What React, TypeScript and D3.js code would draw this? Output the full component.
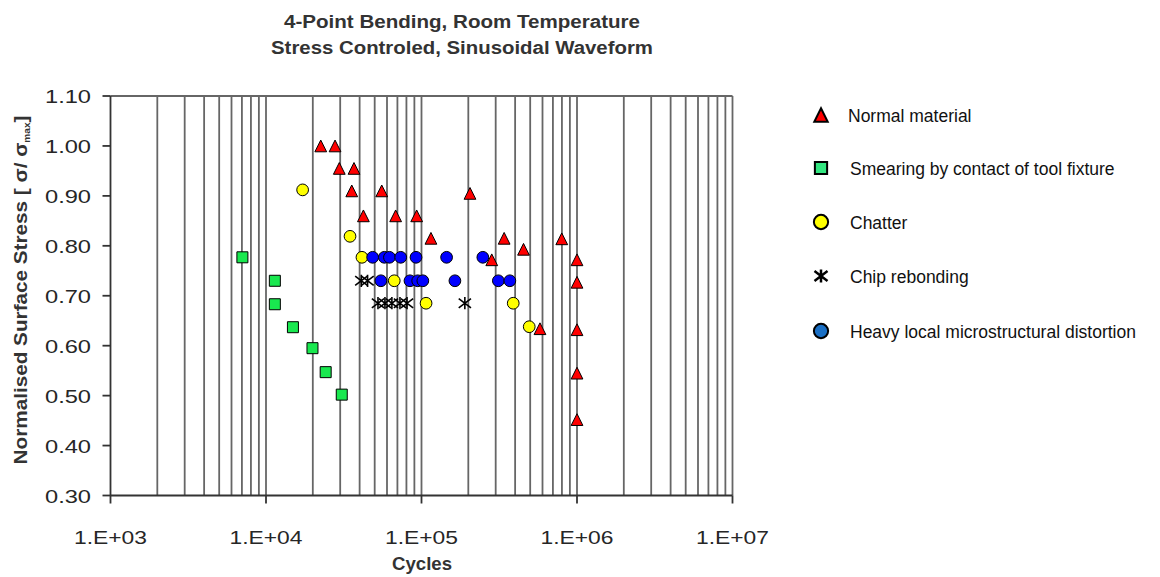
import React, { useEffect, useRef } from "react";
import * as d3 from "d3";

// Series: [cycles, normalised stress]
const normalMaterial: [number, number][] = [
  [22500, 1.0], [27800, 1.0], [29600, 0.955], [36800, 0.955],
  [35600, 0.91], [55500, 0.91], [42300, 0.86], [68200, 0.86],
  [93100, 0.86], [115000, 0.815], [205000, 0.905], [283000, 0.772],
  [340000, 0.815], [453000, 0.793], [578000, 0.634], [798000, 0.814],
  [1000000, 0.772], [1000000, 0.727], [1000000, 0.632], [1000000, 0.545],
  [1000000, 0.452],
];

const smearing: [number, number][] = [
  [7050, 0.777], [11400, 0.73], [11400, 0.683], [14900, 0.637],
  [19900, 0.595], [24200, 0.547], [30700, 0.502],
];

const chatter: [number, number][] = [
  [17200, 0.912], [34700, 0.819], [41400, 0.777], [66800, 0.73],
  [107000, 0.685], [389000, 0.685], [493000, 0.638],
];

const chipRebonding: [number, number][] = [
  [41000, 0.73], [45000, 0.73], [52500, 0.685], [58200, 0.685],
  [64500, 0.685], [72700, 0.685], [80700, 0.685], [190000, 0.685],
];

const heavyDistortion: [number, number][] = [
  [48500, 0.777], [57700, 0.777], [62200, 0.777], [73500, 0.777],
  [92200, 0.777], [145000, 0.777], [248000, 0.777],
  [54800, 0.73], [84300, 0.73], [94500, 0.73], [102000, 0.73],
  [164000, 0.73], [312000, 0.73], [370000, 0.73],
];

const legendLabels = [
  "Normal material",
  "Smearing by contact of tool fixture",
  "Chatter",
  "Chip rebonding",
  "Heavy local microstructural distortion",
];

const xMajorTicks = [1e3, 1e4, 1e5, 1e6, 1e7];
const xTickLabels = ["1.E+03", "1.E+04", "1.E+05", "1.E+06", "1.E+07"];
const yTicks = [0.3, 0.4, 0.5, 0.6, 0.7, 0.8, 0.9, 1.0, 1.1];
const yTickLabels = ["0.30", "0.40", "0.50", "0.60", "0.70", "0.80", "0.90", "1.00", "1.10"];

const FONT = "'Liberation Sans', Arial, sans-serif";

// Excel-like triangle: bounding box centred on the point
const excelTriangle = {
  draw(ctx: any, size: number) {
    const h = Math.sqrt(size) / 2;
    ctx.moveTo(0, -h);
    ctx.lineTo(h, h);
    ctx.lineTo(-h, h);
    ctx.closePath();
  },
};

// Asterisk: vertical stroke plus an X
const asterisk = {
  draw(ctx: any, size: number) {
    const r = Math.sqrt(size) / 2;
    ctx.moveTo(0, -r);
    ctx.lineTo(0, r);
    ctx.moveTo(-r, -r * 0.75);
    ctx.lineTo(r, r * 0.75);
    ctx.moveTo(-r, r * 0.75);
    ctx.lineTo(r, -r * 0.75);
  },
};

const App = () => {
  const ref = useRef<SVGSVGElement>(null);

  useEffect(() => {
    const width = 1160;
    const height = 577;
    const plot = { left: 110.5, right: 732.5, top: 96, bottom: 495.5 };

    const svg = d3.select(ref.current);
    svg.selectAll("*").remove();
    svg.attr("width", width).attr("height", height);

    svg.append("rect").attr("width", width).attr("height", height).attr("fill", "#fff");

    const x = d3.scaleLog().domain([1e3, 1e7]).range([plot.left, plot.right]);
    const y = d3.scaleLinear().domain([0.3, 1.1]).range([plot.bottom, plot.top]);

    const gridColor = "#666";

    // Vertical gridlines at every major and minor log tick
    svg
      .append("g")
      .selectAll("line")
      .data(x.ticks().filter((d) => d > 1e3))
      .enter()
      .append("line")
      .attr("x1", (d) => x(d))
      .attr("x2", (d) => x(d))
      .attr("y1", plot.top)
      .attr("y2", plot.bottom)
      .attr("stroke", gridColor)
      .attr("stroke-width", 1.8);

    // Top border
    svg
      .append("line")
      .attr("x1", plot.left)
      .attr("x2", plot.right)
      .attr("y1", plot.top)
      .attr("y2", plot.top)
      .attr("stroke", gridColor)
      .attr("stroke-width", 1.8);

    // Axes
    const axisColor = "#333";
    svg
      .append("line")
      .attr("x1", plot.left)
      .attr("x2", plot.left)
      .attr("y1", plot.top)
      .attr("y2", plot.bottom + 8)
      .attr("stroke", axisColor)
      .attr("stroke-width", 1.8);
    svg
      .append("line")
      .attr("x1", plot.left)
      .attr("x2", plot.right)
      .attr("y1", plot.bottom)
      .attr("y2", plot.bottom)
      .attr("stroke", axisColor)
      .attr("stroke-width", 1.8);

    // y ticks + labels
    const yAxis = svg.append("g");
    yAxis
      .selectAll("line")
      .data(yTicks)
      .enter()
      .append("line")
      .attr("x1", plot.left - 8)
      .attr("x2", plot.left)
      .attr("y1", (d) => y(d))
      .attr("y2", (d) => y(d))
      .attr("stroke", axisColor)
      .attr("stroke-width", 1.8);
    yAxis
      .selectAll("text")
      .data(yTicks)
      .enter()
      .append("text")
      .attr("x", 91)
      .attr("y", (d) => y(d) + 7)
      .attr("text-anchor", "end")
      .attr("font-family", FONT)
      .attr("font-size", 19)
      .attr("fill", "#262626")
      .attr("textLength", 46)
      .attr("lengthAdjust", "spacingAndGlyphs")
      .text((d, i) => yTickLabels[i]);

    // x major ticks + labels
    const xAxis = svg.append("g");
    xAxis
      .selectAll("line")
      .data(xMajorTicks.slice(1))
      .enter()
      .append("line")
      .attr("x1", (d) => x(d))
      .attr("x2", (d) => x(d))
      .attr("y1", plot.bottom)
      .attr("y2", plot.bottom + 8)
      .attr("stroke", axisColor)
      .attr("stroke-width", 1.8);
    xAxis
      .selectAll("text")
      .data(xMajorTicks)
      .enter()
      .append("text")
      .attr("x", (d) => x(d))
      .attr("y", 544)
      .attr("text-anchor", "middle")
      .attr("font-family", FONT)
      .attr("font-size", 19)
      .attr("fill", "#262626")
      .attr("textLength", 73)
      .attr("lengthAdjust", "spacingAndGlyphs")
      .text((d, i) => xTickLabels[i]);

    // Axis titles
    svg
      .append("text")
      .attr("x", 422)
      .attr("y", 570)
      .attr("text-anchor", "middle")
      .attr("font-family", FONT)
      .attr("font-weight", "bold")
      .attr("font-size", 18)
      .attr("fill", "#333")
      .attr("textLength", 60)
      .attr("lengthAdjust", "spacingAndGlyphs")
      .text("Cycles");

    const yTitle = svg
      .append("text")
      .attr("transform", "translate(27,290) rotate(-90) scale(1.12,1)")
      .attr("text-anchor", "middle")
      .attr("font-family", FONT)
      .attr("font-weight", "bold")
      .attr("font-size", 18.5)
      .attr("fill", "#333");
    yTitle.append("tspan").text("Normalised Surface Stress [ σ/ σ");
    yTitle.append("tspan").attr("font-size", 9).attr("dy", 3).text("max");
    yTitle.append("tspan").attr("dy", -3).text("]");

    // Title
    const title = ["4-Point Bending, Room Temperature", "Stress Controled, Sinusoidal Waveform"];
    const titleLengths = [356, 382];
    svg
      .append("g")
      .selectAll("text")
      .data(title)
      .enter()
      .append("text")
      .attr("x", 462)
      .attr("y", (d, i) => 28 + i * 25.5)
      .attr("text-anchor", "middle")
      .attr("font-family", FONT)
      .attr("font-weight", "bold")
      .attr("font-size", 18)
      .attr("fill", "#333")
      .attr("textLength", (d, i) => titleLengths[i])
      .attr("lengthAdjust", "spacingAndGlyphs")
      .text((d) => d);

    // Markers
    const series = [
      { data: smearing, type: d3.symbolSquare, size: 121, fill: "#19e84f" },
      { data: chatter, type: d3.symbolCircle, size: 108, fill: "#ffff00" },
      { data: chipRebonding, type: asterisk, size: 150, fill: "none" },
      { data: heavyDistortion, type: d3.symbolCircle, size: 108, fill: "#0000ff" },
      { data: normalMaterial, type: excelTriangle, size: 138, fill: "#ff0000" },
    ];

    series.forEach((s) => {
      svg
        .append("g")
        .selectAll("path")
        .data(s.data)
        .enter()
        .append("path")
        .attr("transform", (d) => `translate(${x(d[0])},${y(d[1])})`)
        .attr("d", d3.symbol().type(s.type as any).size(s.size)())
        .attr("fill", s.fill)
        .attr("stroke", "#000")
        .attr("stroke-width", s.fill === "none" ? 1.6 : 1);
    });

    // Legend
    const legendMarkers = [
      { type: excelTriangle, size: 180, fill: "#ff0000" },
      { type: d3.symbolSquare, size: 150, fill: "#33e680" },
      { type: d3.symbolCircle, size: 160, fill: "#ffff00" },
      { type: asterisk, size: 170, fill: "none" },
      { type: d3.symbolCircle, size: 160, fill: "#1a6fc4" },
    ];
    const legendY = [115, 168, 222, 276, 331];
    const legend = svg.append("g");
    legendLabels.forEach((label, i) => {
      const m = legendMarkers[i];
      legend
        .append("path")
        .attr("transform", `translate(821,${legendY[i]})`)
        .attr("d", d3.symbol().type(m.type as any).size(m.size)())
        .attr("fill", m.fill)
        .attr("stroke", "#000")
        .attr("stroke-width", m.fill === "none" ? 2.5 : 2);
      legend
        .append("text")
        .attr("x", i === 0 ? 848 : 850)
        .attr("y", legendY[i] + 6.5)
        .attr("font-family", FONT)
        .attr("font-size", 17.5)
        .attr("fill", "#111")
        .text(label);
    });
  }, []);

  return <svg ref={ref} style={{ position: "absolute", left: 0, top: 0 }}></svg>;
};

export default App;
